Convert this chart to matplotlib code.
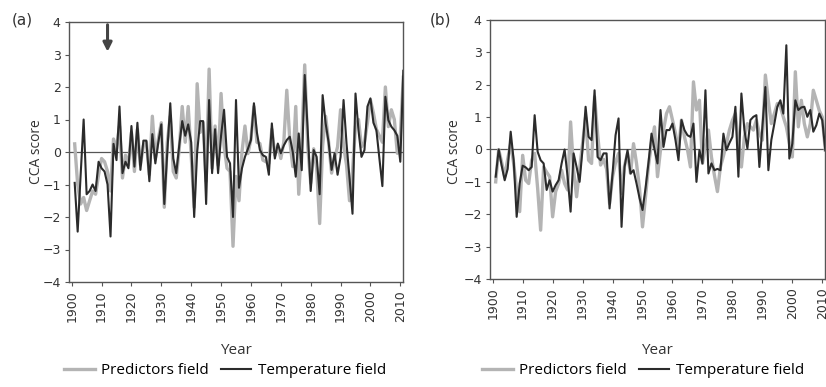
import numpy as np
import matplotlib
matplotlib.use("Agg")
import matplotlib.pyplot as plt
from matplotlib.lines import Line2D

years = list(range(1901, 2012))

# panel (a)
temp_a = [-0.95, -2.45, -0.7, 1.0, -1.3, -1.2, -1.0, -1.2, -0.3, -0.5,
          -0.6, -1.0, -2.6, 0.25, -0.25, 1.4, -0.65, -0.3, -0.5, 0.8,
          -0.45, 0.9, -0.55, 0.35, 0.35, -0.9, 0.55, -0.35, 0.3, 0.85,
          -1.6, 0.0, 1.5, -0.2, -0.65, 0.2, 0.95, 0.5, 0.85, 0.3,
          -2.0, 0.0, 0.95, 0.95, -1.6, 1.6, -0.65, 0.7, -0.65, 0.5,
          1.3, -0.15, -0.35, -2.0, 1.6, -1.1, -0.5, -0.15, 0.1, 0.37,
          1.5, 0.6, 0.06, -0.1, -0.15, -0.7, 0.88, -0.2, 0.26, -0.04,
          0.2, 0.37, 0.47, 0.0, -0.76, 0.57, -0.56, 2.37, 0.67, -1.2,
          0.06, -0.15, -1.3, 1.75, 0.88, 0.3, -0.55, -0.04, -0.7, -0.15,
          1.6, 0.26, -0.8, -1.9, 1.8, 0.67, -0.15, 0.06, 1.4, 1.65,
          0.9, 0.67, -0.2, -1.05, 1.7, 0.98, 0.78, 0.67, 0.5, -0.3,
          2.5]
pred_a = [0.25, -1.0, -1.6, -1.4, -1.8, -1.5, -1.2, -1.3, -0.7, -0.2,
          -0.3, -0.6, -1.2, 0.4, 0.1, 0.8, -0.8, -0.1, -0.4, 0.6,
          -0.6, 0.7, -0.4, 0.2, 0.3, -0.7, 1.1, -0.2, 0.4, 0.9,
          -1.7, 0.3, 1.1, -0.6, -0.8, 0.1, 1.4, 0.3, 1.4, -0.1,
          -1.7, 2.1, 0.6, 0.9, -0.9, 2.55, -0.5, 0.8, -0.4, 1.8,
          0.2, -0.5, -0.6, -2.9, -0.75, -1.5, 0.0, 0.8, -0.05, 0.4,
          1.4, 0.3, 0.26, -0.25, -0.3, -0.35, 0.7, -0.1, 0.2, -0.2,
          0.3, 1.9, 0.37, -0.45, 1.4, -1.3, 0.3, 2.68, 0.2, -0.96,
          0.1, -0.5, -2.2, 0.2, 1.1, 0.3, -0.65, -0.2, 0.16, 1.3,
          0.2, -0.4, -1.5, -0.6, 0.8, 1.0, 0.16, 0.3, 0.9, 1.6,
          1.2, 0.7, 0.5, 0.3, 2.0, 0.78, 1.3, 1.0, -0.04, 0.5,
          2.3]

# panel (b)
temp_b = [-0.84, 0.0, -0.5, -0.95, -0.6, 0.55, -0.33, -2.08, -1.05, -0.5,
          -0.55, -0.64, -0.54, 1.06, -0.07, -0.33, -0.43, -1.25, -0.95, -1.3,
          -1.1, -0.95, -0.43, 0.0, -0.84, -1.92, -0.12, -0.54, -1.0, 0.03,
          1.32, 0.39, 0.29, 1.83, -0.23, -0.33, -0.12, -0.12, -1.82, -0.74,
          0.44, 0.96, -2.39, -0.54, -0.02, -0.74, -0.64, -1.05, -1.5, -1.87,
          -1.2, -0.4, 0.49, 0.0, -0.43, 1.22, 0.08, 0.6, 0.6, 0.8,
          0.29, -0.33, 0.91, 0.6, 0.44, 0.39, 0.8, -1.0, -0.02, -0.43,
          1.83, -0.74, -0.43, -0.64, -0.6, -0.64, 0.49, -0.02, 0.2, 0.39,
          1.32, -0.84, 1.73, 0.6, 0.03, 0.91, 1.01, 1.06, -0.54, 0.7,
          1.93, -0.64, 0.3, 0.8, 1.32, 1.52, 1.11, 3.22, -0.28, 0.18,
          1.52, 1.22, 1.3, 1.32, 1.01, 1.22, 0.55, 0.75, 1.11, 0.9,
          -0.02]
pred_b = [-1.0, 0.0, -0.4, -0.84, -0.3, 0.18, -0.43, -1.25, -1.92, -0.18,
          -0.95, -1.05, -0.33, -0.12, -1.2, -2.49, -0.54, -0.7, -0.84, -2.08,
          -1.3, -1.05, -0.64, -1.05, -1.25, 0.85, -0.64, -1.46, -0.6, 0.18,
          1.0, -0.33, -0.43, 1.63, 0.5, -0.48, -0.3, -0.6, -1.67, -0.84,
          -0.4, -0.12, -1.36, -0.5, -0.12, -0.74, 0.18, -0.43, -1.2, -2.39,
          -1.46, -0.5, 0.2, 0.7, -0.84, -0.02, 0.6, 1.11, 1.32, 0.91,
          0.5, -0.02, 0.91, 0.39, 0.0, -0.54, 2.09, 1.22, 1.52, -0.43,
          0.1, 0.6, -0.23, -0.8, -1.3, -0.54, -0.2, 0.18, 0.6, 0.9,
          1.11, 0.2, -0.54, 0.39, 0.8, 0.7, 0.6, 0.91, 0.5, 0.29,
          2.3, 1.5, 0.8, 1.11, 1.42, 1.32, 1.0, 0.7, 0.2, -0.23,
          2.4, 0.7, 1.52, 0.8, 0.39, 0.8, 1.83, 1.52, 1.2, 1.0,
          -0.02]

tick_years = list(range(1900, 2011, 10))
y_ticks = list(range(-4, 5))

GRAY = "#b4b4b4"
DARK = "#2b2b2b"
TXT = "#333333"

fig = plt.figure(figsize=(8.26, 3.87), dpi=100)
ax_a = fig.add_axes([69/826, 1-282/387, (403-69)/826, 260/387])
ax_b = fig.add_axes([490/826, 1-279/387, (825-490)/826, 259/387])

for ax, pred, temp in [(ax_a, pred_a, temp_a), (ax_b, pred_b, temp_b)]:
    ax.axhline(0, color="#555555", lw=0.9, zorder=1)
    ax.plot(years, pred, color=GRAY, lw=2.4, zorder=2)
    ax.plot(years, temp, color=DARK, lw=1.5, zorder=3)
    ax.set_xlim(1899.1, 2010.9)
    ax.set_ylim(-4, 4)
    ax.set_xticks(tick_years)
    ax.set_xticklabels([str(y) for y in tick_years], rotation=90, fontsize=9, color=TXT)
    ax.set_yticks(y_ticks)
    ax.set_yticklabels([str(v).replace("-", "\u2212") for v in y_ticks], fontsize=9, color=TXT)
    ax.tick_params(direction="out", length=3, width=0.8, color="#555555", pad=3)
    for s in ax.spines.values():
        s.set_color("#555555")
        s.set_linewidth(1.0)

# arrow in panel (a)
ax_a.annotate("", xy=(1912, 3.0), xytext=(1912, 4.0),
              arrowprops=dict(arrowstyle="-|>", color="#444444", lw=2.2, mutation_scale=13))

fig.text(12/826, 1-20/387, "(a)", fontsize=11, color=TXT, va="center")
fig.text(430/826, 1-20/387, "(b)", fontsize=11, color=TXT, va="center")

for xc, yl in [(236, 37), (657, 455)]:
    fig.text(xc/826, 1-351/387, "Year", fontsize=11, color=TXT, ha="center", va="center",
             family="Open Sans")
    fig.text(yl/826, 1-152/387, "CCA score", fontsize=10, color=TXT, ha="center", va="center",
             rotation=90, family="Open Sans")

handles = [Line2D([], [], color=GRAY, lw=2.4), Line2D([], [], color=DARK, lw=1.5)]
labels = ["Predictors field", "Temperature field"]
for xc in [225, 643]:
    fig.legend(handles, labels, loc="center", bbox_to_anchor=(xc/826, 1-371/387), ncol=2,
               frameon=False, handlelength=2.0, columnspacing=0.8, handletextpad=0.4,
               prop={"family": "Open Sans", "size": 11})

fig.savefig("out.png", dpi=100)
